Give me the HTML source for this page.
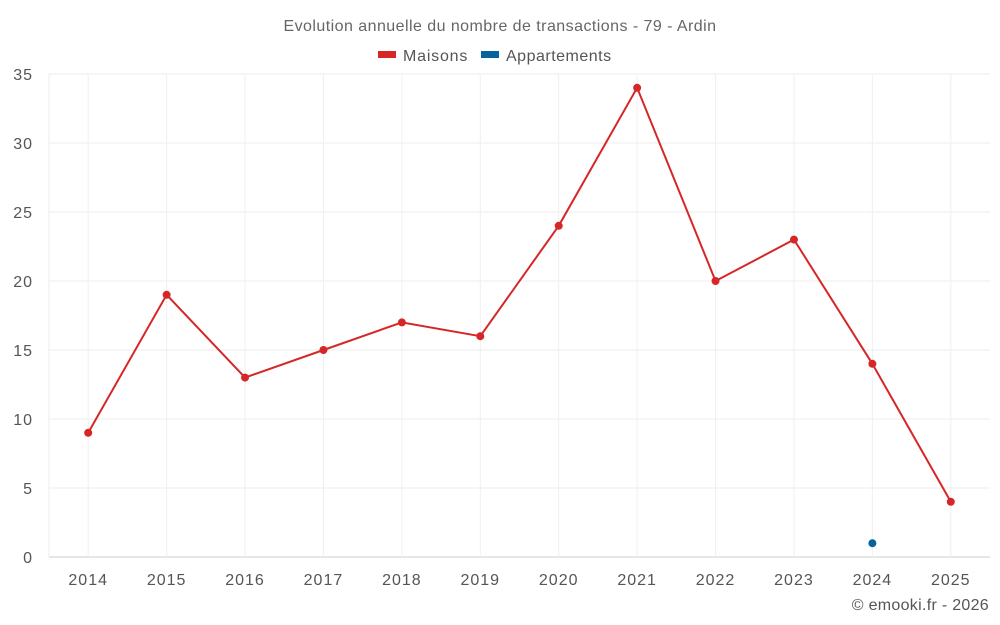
<!DOCTYPE html>
<html><head><meta charset="utf-8"><style>
body{margin:0;background:#fff;font-family:"Liberation Sans",sans-serif}
svg{display:block}
</style></head><body>
<svg width="1000" height="625">
<text x="500" y="31" text-anchor="middle" font-size="16" letter-spacing="0.45" fill="#666">Evolution annuelle du nombre de transactions - 79 - Ardin</text>
<g><rect x="378" y="51" width="18" height="7" fill="#d62728"/><text x="403" y="61" font-size="16" letter-spacing="0.8" fill="#555">Maisons</text></g>
<g><rect x="481" y="51" width="18" height="7" fill="#08629b"/><text x="506" y="61" font-size="16" letter-spacing="0.5" fill="#555">Appartements</text></g>
<g id="grid"></g><g id="axes"></g><g id="marks"></g>
<text x="989" y="610" text-anchor="end" font-size="16" letter-spacing="0.3" fill="#555">© emooki.fr - 2026</text>
</svg>
<script>
const categories=[2014,2015,2016,2017,2018,2019,2020,2021,2022,2023,2024,2025];
const maisons=[9,19,13,15,17,16,24,34,20,23,14,4];
const appartements=[null,null,null,null,null,null,null,null,null,null,1,null];
const yTicks=[0,5,10,15,20,25,30,35];
const L=49,R=990,T=74,B=557,yMax=35;
const bw=(R-L)/categories.length;
const x=i=>L+bw*(i+0.5);
const y=v=>B-(v/yMax)*(B-T);
const NS="http://www.w3.org/2000/svg";
function mk(p,tag,a){const e=document.createElementNS(NS,tag);for(const k in a)e.setAttribute(k,a[k]);p.appendChild(e);return e;}
const g=document.getElementById('grid'),ax=document.getElementById('axes'),m=document.getElementById('marks');
yTicks.forEach(t=>{
 const l=mk(g,'line',{x1:L,x2:R,y1:y(t),y2:y(t),stroke:t===0?'#ccc':'#ececec'});
 
 
 const tx=mk(ax,'text',{x:33,y:y(t)+6,'text-anchor':'end','font-size':16,'letter-spacing':1,fill:'#555'});tx.textContent=t;
 
 
});
mk(g,'line',{x1:L,x2:L,y1:T,y2:B,stroke:'#ececec'});
categories.forEach((c,i)=>{
 const l=mk(g,'line',{x1:x(i),x2:x(i),y1:T,y2:B,stroke:'#f0f0f0'});
 
 
 const tx=mk(ax,'text',{x:x(i),y:585,'text-anchor':'middle','font-size':16,'letter-spacing':1,fill:'#555'});tx.textContent=c;
 
 
});
let d='';maisons.forEach((v,i)=>{if(v!=null)d+=(d?'L':'M')+x(i)+','+y(v);});
const pl=mk(m,'path',{d:d,fill:'none',stroke:'#d62728','stroke-width':2});


maisons.forEach((v,i)=>{if(v==null)return;const c=mk(m,'circle',{cx:x(i),cy:y(v),r:4,fill:'#d62728'});
 
 });
appartements.forEach((v,i)=>{if(v==null)return;const c=mk(m,'circle',{cx:x(i),cy:y(v),r:4,fill:'#08629b'});
 
 });
</script>
</body></html>
